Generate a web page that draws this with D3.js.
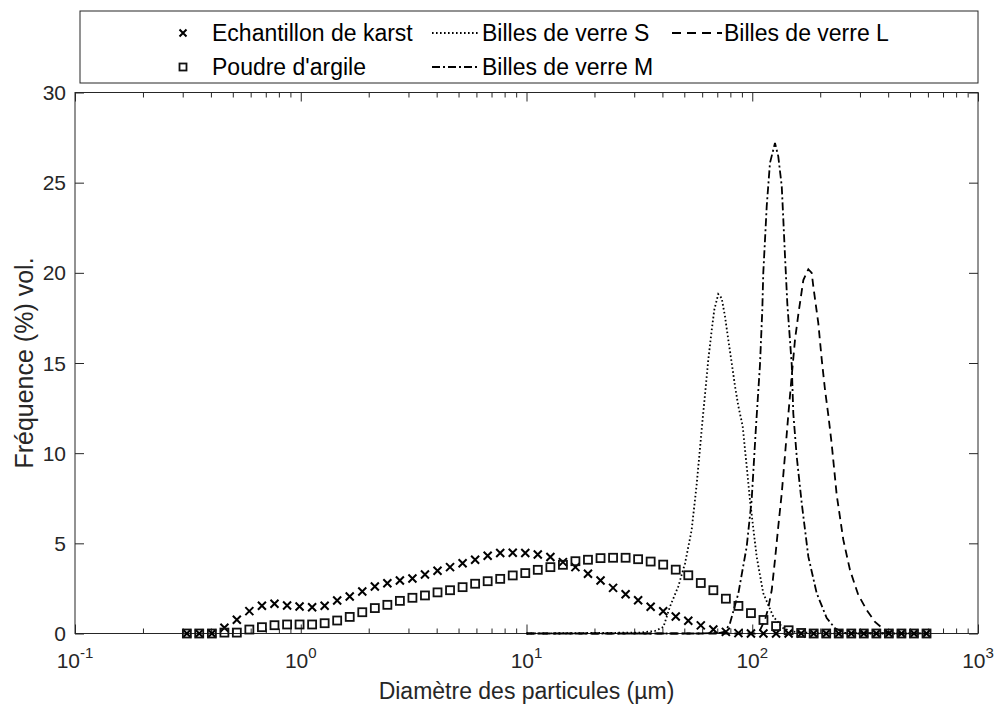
<!DOCTYPE html>
<html>
<head>
<meta charset="utf-8">
<script src="https://cdn.jsdelivr.net/npm/d3@7"></script>
<style>
  body { margin: 0; background: #fff; }
  text { font-family: "Liberation Sans", Arial, sans-serif; fill: #262626; }
</style>
</head>
<body>
<svg class="chart"></svg>
<script>
// bins of the granulometer (µm)
const diam = [0.313, 0.355, 0.404, 0.459, 0.521, 0.592, 0.673, 0.765, 0.870, 0.988,
  1.123, 1.276, 1.450, 1.648, 1.873, 2.129, 2.419, 2.749, 3.124, 3.550,
  4.035, 4.585, 5.211, 5.922, 6.730, 7.648, 8.690, 9.876, 11.22, 12.76,
  14.50, 16.47, 18.72, 21.28, 24.18, 27.48, 31.22, 35.48, 40.32, 45.83,
  52.08, 59.17, 67.25, 76.41, 86.85, 98.69, 112.1, 127.5, 144.9, 164.7,
  187.1, 212.6, 241.6, 274.6, 312.0, 354.6, 402.9, 458.0, 520.4, 591.5]

const karst = [0, 0, 0, 0.32, 0.76, 1.24, 1.54, 1.65, 1.55, 1.50,
  1.46, 1.54, 1.83, 2.05, 2.33, 2.61, 2.79, 2.94, 3.05, 3.27,
  3.48, 3.68, 3.90, 4.09, 4.31, 4.46, 4.48, 4.46, 4.38, 4.24,
  3.96, 3.68, 3.31, 2.94, 2.53, 2.18, 1.84, 1.48, 1.23, 0.94,
  0.71, 0.45, 0.22, 0.09, 0.02, 0, 0, 0, 0, 0,
  0, 0, 0, 0, 0, 0, 0, 0, 0, 0]

const argile = [0, 0, 0, 0.05, 0.05, 0.22, 0.35, 0.46, 0.50, 0.50,
  0.50, 0.57, 0.72, 0.92, 1.18, 1.41, 1.59, 1.81, 1.98, 2.11,
  2.28, 2.40, 2.57, 2.76, 2.90, 3.03, 3.22, 3.35, 3.53, 3.68,
  3.81, 4.01, 4.09, 4.18, 4.20, 4.20, 4.12, 3.99, 3.82, 3.54,
  3.23, 2.80, 2.40, 1.93, 1.53, 1.13, 0.75, 0.41, 0.18, 0.03,
  0, 0, 0, 0, 0, 0, 0, 0, 0, 0]

// glass beads (lines)
const diamS = [10, 31.8, 37.1, 40.4, 43.2, 47.0, 50.4, 53.9, 56.8, 59.7, 61.8, 63.9, 66.1, 67.9, 70.7,
  73.2, 75.7, 78.3, 81.1, 83.9, 86.8, 90.7, 92.9, 97.7, 104.6, 111.9, 124.0, 137.3, 152.0, 200, 591.5]
const freqS = [0, 0.05, 0.14, 0.36, 1.49, 2.6, 3.9, 5.74, 8.33, 11.3, 13.3, 15.2, 16.8, 17.95, 18.82,
  18.6, 17.6, 16.3, 15.0, 13.7, 12.6, 11.5, 10.2, 7.4, 4.26, 2.23, 0.93, 0.29, 0.1, 0, 0]

const diamM = [10, 58.7, 72.0, 75.7, 79.7, 86.8, 94.5, 99.4, 103.9, 108.2, 110.8, 111.9, 113.9, 115.9, 119.8,
  126.1, 130.4, 135.1, 137.3, 139.7, 143.0, 149.6, 152.0, 157.4, 165.6, 177.2, 193.0, 213.7, 232.6, 257.6, 591.5]
const freqM = [0, 0, 0.03, 0.1, 0.57, 2.23, 4.82, 7.41, 11.48, 14.9, 17.95, 19.99, 21.84, 23.69, 26.09,
  27.2, 26.46, 24.8, 22.95, 20.9, 18.3, 14.9, 12.2, 9.81, 7.24, 4.26, 2.23, 0.86, 0.29, 0.03, 0]

const diamL = [10, 102.9, 108.2, 113.9, 117.8, 122.0, 126.1, 130.4, 135.1, 139.7, 144.4, 149.6, 154.7, 160.0, 168.4,
  177.2, 183.4, 186.4, 196.2, 203.1, 210.1, 217.3, 224.9, 236.6, 253.2, 271.0, 294.9, 321.3, 349.8, 394.0, 428.9, 591.5]
const freqL = [0, 0, 0.19, 0.75, 1.42, 2.41, 4.08, 5.93, 7.78, 9.91, 12.1, 14.3, 16.3, 17.7, 19.6,
  20.2, 20.0, 19.25, 17.2, 15.2, 13.5, 12.1, 10.5, 7.69, 5.19, 3.52, 2.14, 1.30, 0.64, 0.1, 0, 0]

const yTicks = [0, 5, 10, 15, 20, 25, 30]
const xMajor = [0.1, 1, 10, 100, 1000]
const xExp = ["-1", "0", "1", "2", "3"]

const W = 997, H = 708
const margin = {top: 92.5, right: 19, bottom: 74.5, left: 75}
const width = W - margin.left - margin.right,
      height = H - margin.top - margin.bottom
const ink = "#262626"

const svg = d3.select(".chart").attr("width", W).attr("height", H)

let x = d3.scaleLog().domain([0.1, 1000]).range([0, width])
let y = d3.scaleLinear().domain([0, 30]).range([height, 0])

let chart = svg.append("g")
  .attr("transform", "translate(" + margin.left + "," + margin.top + ")")

// minor ticks 2..9 for each decade
let xMinor = []
xMajor.slice(0, -1).forEach(d => { for (let i = 2; i < 10; i++) xMinor.push(d * i) })

function styleAxis(g) {
  g.select(".domain").remove()
  g.selectAll("line").attr("stroke", ink).attr("stroke-width", 1)
}
// inward ticks on all four sides
chart.append("g").attr("transform", "translate(0," + height + ")")
  .call(d3.axisBottom(x).tickValues(xMajor).tickSize(-9).tickFormat("")).call(styleAxis)
chart.append("g").attr("transform", "translate(0," + height + ")")
  .call(d3.axisBottom(x).tickValues(xMinor).tickSize(-5).tickFormat("")).call(styleAxis)
chart.append("g")
  .call(d3.axisTop(x).tickValues(xMajor).tickSize(-9).tickFormat("")).call(styleAxis)
chart.append("g")
  .call(d3.axisTop(x).tickValues(xMinor).tickSize(-5).tickFormat("")).call(styleAxis)
chart.append("g")
  .call(d3.axisLeft(y).tickValues(yTicks).tickSize(-9).tickFormat("")).call(styleAxis)
chart.append("g").attr("transform", "translate(" + width + ",0)")
  .call(d3.axisRight(y).tickValues(yTicks).tickSize(-9).tickFormat("")).call(styleAxis)

chart.append("rect").attr("width", width).attr("height", height)
  .attr("fill", "none").attr("stroke", ink).attr("stroke-width", 1)

// tick labels
chart.selectAll(".ylab").data(yTicks).enter().append("text")
  .attr("x", -9).attr("y", d => y(d)).attr("dy", "0.36em")
  .attr("text-anchor", "end").style("font-size", "21px").text(d => d)

let xl = chart.selectAll(".xlab").data(xMajor).enter().append("text")
  .attr("x", d => x(d)).attr("y", height + 34)
  .attr("text-anchor", "middle").style("font-size", "21px")
xl.append("tspan").text("10")
xl.append("tspan").attr("dy", -10).style("font-size", "15px").text((d, i) => xExp[i])

// axis titles
svg.append("text").attr("x", margin.left + width / 2).attr("y", 699)
  .attr("text-anchor", "middle").style("font-size", "23px")
  .text("Diamètre des particules (µm)")
svg.append("text").attr("transform", "translate(33," + (margin.top + height / 2) + ") rotate(-90)")
  .attr("text-anchor", "middle").style("font-size", "25px")
  .text("Fréquence (%) vol.")

// lines
const line = d3.line().x(d => x(d[0])).y(d => y(d[1]))
const lines = [
  {d: diamS, f: freqS, dash: "1.6,2.4"},
  {d: diamM, f: freqM, dash: "8,3,2,3"},
  {d: diamL, f: freqL, dash: "8,5"}
]
lines.forEach(s => {
  chart.append("path").datum(d3.zip(s.d, s.f))
    .attr("d", line).attr("fill", "none").attr("stroke", "#000")
    .attr("stroke-width", 1.8).attr("stroke-dasharray", s.dash)
})

// markers
const ms = 4
chart.append("g").selectAll("path").data(d3.zip(diam, karst)).enter().append("path")
  .attr("transform", d => "translate(" + x(d[0]) + "," + y(d[1]) + ")")
  .attr("d", `M${-ms},${-ms}L${ms},${ms}M${-ms},${ms}L${ms},${-ms}`)
  .attr("stroke", "#000").attr("stroke-width", 2)
chart.append("g").selectAll("rect").data(d3.zip(diam, argile)).enter().append("rect")
  .attr("x", d => x(d[0]) - ms).attr("y", d => y(d[1]) - ms)
  .attr("width", ms * 2).attr("height", ms * 2)
  .attr("fill", "none").attr("stroke", "#111").attr("stroke-width", 1.8)

// legend
const lg = svg.append("g")
lg.append("rect").attr("x", 80).attr("y", 11).attr("width", 898).attr("height", 72)
  .attr("fill", "#fff").attr("stroke", ink).attr("stroke-width", 1)
lg.append("path").attr("transform", "translate(183,33)")
  .attr("d", "M-3.5,-3.5L3.5,3.5M-3.5,3.5L3.5,-3.5").attr("stroke", "#000").attr("stroke-width", 2)
lg.append("rect").attr("x", 179.5).attr("y", 63.5).attr("width", 7).attr("height", 7)
  .attr("fill", "none").attr("stroke", "#111").attr("stroke-width", 1.8)
const legLines = [
  {x1: 432, x2: 480, y: 33, dash: "1.6,2.4"},
  {x1: 432, x2: 480, y: 67, dash: "8,3,2,3"},
  {x1: 672, x2: 722, y: 33, dash: "9,6"}
]
legLines.forEach(l => {
  lg.append("line").attr("x1", l.x1).attr("x2", l.x2).attr("y1", l.y).attr("y2", l.y)
    .attr("stroke", "#000").attr("stroke-width", 1.8).attr("stroke-dasharray", l.dash)
})
const legText = [
  {x: 212, y: 33, t: "Echantillon de karst"},
  {x: 212, y: 67, t: "Poudre d'argile"},
  {x: 482, y: 33, t: "Billes de verre S"},
  {x: 482, y: 67, t: "Billes de verre M"},
  {x: 724, y: 33, t: "Billes de verre L"}
]
lg.selectAll(".lt").data(legText).enter().append("text")
  .attr("x", d => d.x).attr("y", d => d.y).attr("dy", "0.36em")
  .style("font-size", "23px").style("fill", "#000").text(d => d.t)
</script>
</body>
</html>
